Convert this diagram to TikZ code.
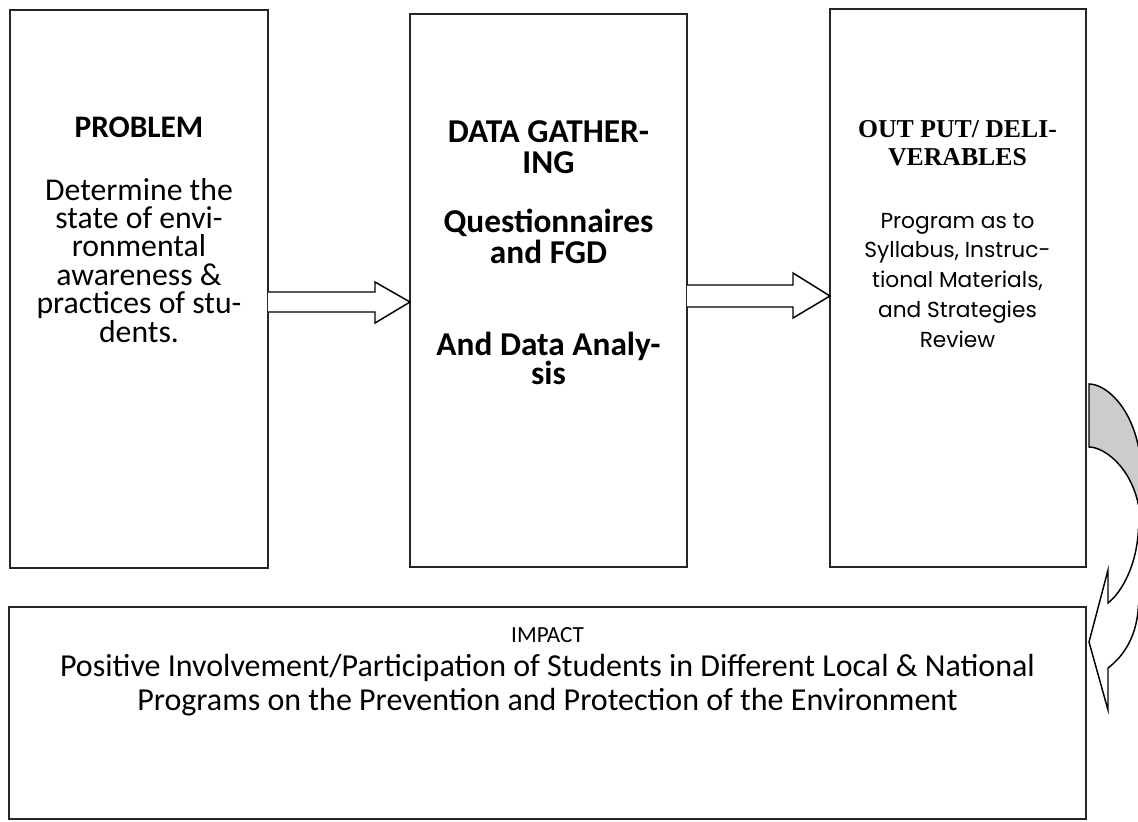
\documentclass[tikz,border=0pt]{standalone}
\usepackage{fontspec}
\setmainfont{Carlito}
\newfontfamily\serifb{Liberation Serif}
\newfontfamily\gothic{Poppins}
\usetikzlibrary{calc}
\begin{document}
\begin{tikzpicture}[x=0.75pt,y=-0.75pt,
  box/.style={draw=black!85,line width=1.4pt,inner sep=0pt,outer sep=0pt,anchor=north west,fill=white},
  blockarrow/.style={draw=black,line width=1.1pt,line join=miter,fill=white},
  txt/.style={inner sep=0pt,outer sep=0pt,align=center,anchor=base},
  curl/.style={draw=black,line width=1.1pt}]
\useasboundingbox[fill=white] (0,0) rectangle (1138,821);

% boxes
\node[box,minimum width=258*0.75pt,minimum height=558*0.75pt] (b1) at (10,10) {};
\node[box,minimum width=277*0.75pt,minimum height=553*0.75pt] (b2) at (410,14) {};
\node[box,minimum width=256*0.75pt,minimum height=558*0.75pt] (b3) at (830,9) {};
\node[box,minimum width=1077*0.75pt,minimum height=212*0.75pt] (b4) at (9,607) {};

% texts box 1 (base anchor = last line baseline)
\node[txt,font=\fontsize{23.5pt}{21.3pt}\selectfont\bfseries] (t1h) at (139,137) {PROBLEM};
\node[txt,font=\fontsize{23.8pt}{21.3pt}\selectfont] (t1b) at (139,342)
  {Determine the\\state of envi-\\ronmental\\awareness \&\\practices of stu-\\dents.};

% texts box 2
\node[txt,font=\fontsize{25pt}{23.25pt}\selectfont\bfseries] (t2a) at (548.5,173) {DATA GATHER-\\ING};
\node[txt,font=\fontsize{25pt}{23.25pt}\selectfont\bfseries] (t2b) at (548.5,263) {Questionnaires\\and FGD};
\node[txt,font=\fontsize{25pt}{21.75pt}\selectfont\bfseries] (t2c) at (548.5,384) {And Data Analy-\\sis};

% texts box 3
\node[txt,font=\serifb\fontsize{19.3pt}{21pt}\selectfont\bfseries] (t3h) at (957.5,165) {OUT PUT/ DELI-\\VERABLES};
\node[txt,font=\gothic\fontsize{16.3pt}{22.3pt}\selectfont] (t3b) at (957.5,347)
  {Program as to\\Syllabus, Instruc-\\tional Materials,\\and Strategies\\Review};

% texts box 4
\node[txt,font=\fontsize{17.3pt}{20pt}\selectfont] (t4h) at (547.5,642) {IMPACT};
\node[txt,font=\fontsize{24pt}{25.5pt}\selectfont] (t4b) at (547.5,710)
  {Positive Involvement/Participation of Students in Different Local \& National\\Programs on the Prevention and Protection of the Environment};

% block arrow 1
\coordinate (h1) at (0,302);
\coordinate (tip1) at (b2.west |- h1);
\draw[blockarrow] ($(b1.east |- h1)+(0,-10)$) -- ($(tip1)+(-35,-10)$) -- ($(tip1)+(-35,-20)$)
  -- (tip1) -- ($(tip1)+(-35,21)$) -- ($(tip1)+(-35,10)$) -- ($(b1.east |- h1)+(0,10)$);

% block arrow 2
\coordinate (h2) at (0,296);
\coordinate (tip2) at (b3.west |- h2);
\draw[blockarrow] ($(b2.east |- h2)+(0,-11)$) -- ($(tip2)+(-37,-11)$) -- ($(tip2)+(-37,-23)$)
  -- (tip2) -- ($(tip2)+(-37,22)$) -- ($(tip2)+(-37,11)$) -- ($(b2.east |- h2)+(0,11)$);

% curved arrow (b3 -> b4)
\coordinate (c0) at (1089,384);
\coordinate (c1) at (1089,447);
\fill[black!20] (c0) .. controls (1105,384) and (1130,405) .. (1138.5,447) -- (1138.5,505)
  .. controls (1130,465) and (1103,447) .. (c1) -- cycle;
\draw[curl] (1138.5,447) .. controls (1130,405) and (1105,384) .. (c0) -- (c1)
  .. controls (1103,447) and (1130,465) .. (1138.5,505);
\draw[curl,line join=miter] (1138.5,528) .. controls (1137,565) and (1122,592) .. (1108,603)
  -- (1108,570) -- (1089,642) -- (1108,710) -- (1108,668)
  .. controls (1125,655) and (1137,635) .. (1138.5,605);
\end{tikzpicture}
\end{document}
